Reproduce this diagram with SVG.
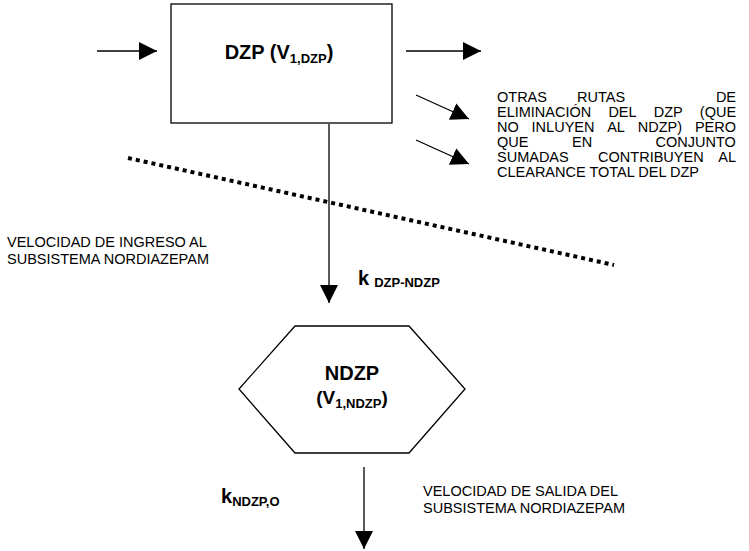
<svg xmlns="http://www.w3.org/2000/svg" width="749" height="551" viewBox="0 0 749 551">
<style>
text{font-family:"Liberation Sans",Arial,sans-serif;fill:#000}
.t{font-size:14.5px}
.r{font-size:14.5px}
.b{font-size:20px;font-weight:bold}
.b2{font-size:19px;font-weight:bold}
.s{font-size:13px;font-weight:bold}
.ln{stroke:#000;stroke-width:1.3;fill:none}
</style>
<defs>
<marker id="ah" viewBox="0 0 10 10" refX="10" refY="5" markerWidth="18" markerHeight="18" markerUnits="userSpaceOnUse" orient="auto">
<path d="M0,0 L10,5 L0,10 Z" fill="#000"/>
</marker>
</defs>
<rect width="749" height="551" fill="#fff"/>
<g id="connectors">
<line class="ln" x1="97" y1="51" x2="157" y2="51" marker-end="url(#ah)"/>
<line class="ln" x1="406" y1="51" x2="481" y2="51" marker-end="url(#ah)"/>
<line class="ln" x1="416" y1="95" x2="469" y2="119" marker-end="url(#ah)"/>
<line class="ln" x1="416" y1="140" x2="469" y2="164" marker-end="url(#ah)"/>
<line class="ln" x1="329" y1="124" x2="329" y2="303" marker-end="url(#ah)"/>
<line class="ln" x1="364" y1="467" x2="364" y2="549" marker-end="url(#ah)"/>
<line x1="128" y1="158" x2="614" y2="265" stroke="#000" stroke-width="4" stroke-dasharray="4 4"/>
</g>
<g id="dzp">
<rect x="171" y="4" width="221" height="119" fill="#fff" stroke="#000" stroke-width="1.3"/>
<text x="279" y="59" text-anchor="middle"><tspan class="b">DZP (V</tspan><tspan class="s" dy="4">1,DZP</tspan><tspan class="b" dy="-4">)</tspan></text>
</g>
<g id="ndzp">
<polygon points="295,326 409,326 465,389 409,453 295,453 239,389" fill="#fff" stroke="#000" stroke-width="1.3"/>
<text x="352" y="380" text-anchor="middle" class="b">NDZP</text>
<text x="352" y="404" text-anchor="middle"><tspan class="b2">(V</tspan><tspan class="s" dy="4">1,NDZP</tspan><tspan class="b2" dy="-4">)</tspan></text>
</g>
<g id="labels">
<text class="r" y="102"><tspan x="497">OTRAS</tspan><tspan x="577">RUTAS</tspan><tspan x="715.9">DE</tspan></text>
<text class="r" y="117"><tspan x="497">ELIMINACIÓN</tspan><tspan x="608.4">DEL</tspan><tspan x="653.7">DZP</tspan><tspan x="699.8">(QUE</tspan></text>
<text class="r" y="132"><tspan x="497">NO</tspan><tspan x="531.6">INLUYEN</tspan><tspan x="607.2">AL</tspan><tspan x="637.8">NDZP)</tspan><tspan x="694.9">PERO</tspan></text>
<text class="r" y="147"><tspan x="497">QUE</tspan><tspan x="572">EN</tspan><tspan x="655.5">CONJUNTO</tspan></text>
<text class="r" y="162"><tspan x="497">SUMADAS</tspan><tspan x="598.1">CONTRIBUYEN</tspan><tspan x="718.3">AL</tspan></text>
<text class="r" x="497" y="177">CLEARANCE TOTAL DEL DZP</text>
<text class="t" x="7" y="247">VELOCIDAD DE INGRESO AL</text>
<text class="t" x="7" y="264">SUBSISTEMA NORDIAZEPAM</text>
<text x="358" y="285"><tspan class="b">k</tspan><tspan class="s" dx="5" dy="2">DZP-NDZP</tspan></text>
<text x="221" y="503"><tspan class="b">k</tspan><tspan class="s" dy="3">NDZP,O</tspan></text>
<text class="t" x="423" y="496">VELOCIDAD DE SALIDA DEL</text>
<text class="t" x="423" y="513">SUBSISTEMA NORDIAZEPAM</text>
</g>
</svg>
